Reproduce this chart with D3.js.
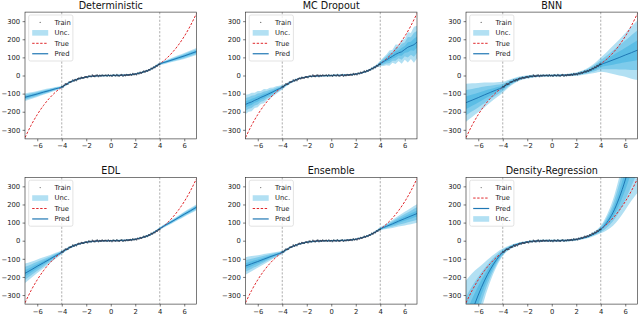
<!DOCTYPE html>
<html>
<head>
<meta charset="utf-8">
<script src="https://cdn.jsdelivr.net/npm/d3@7"></script>
<style>
  body { margin: 0; background: #fff; }
  svg { display: block; font-family: "DejaVu Sans", sans-serif; }
</style>
</head>
<body>
<svg id="canvas" width="640" height="315"></svg>
<script>
// ---------------- data ----------------
let titles = ['Deterministic', 'MC Dropout', 'BNN', 'EDL', 'Ensemble', 'Density-Regression'];
let xTicks = [-6, -4, -2, 0, 2, 4, 6];
let yTicks = [-300, -200, -100, 0, 100, 200, 300];
let trainEdges = [-4, 4];

let grid = [-7,-6.5,-6,-5.5,-5,-4.5,-4,-3.5,-3,-2.5,-2,-1.5,-1,-0.5,0,0.5,1,1.5,2,2.5,3,3.5,4,4.5,5,5.5,6,6.5,7];
let trueY = [-343,-274.6,-216,-166.4,-125,-91.1,-64,-42.9,-27,-15.6,-8,-3.4,-1,-0.1,0,0.1,1,3.4,8,15.6,27,42.9,64,91.1,125,166.4,216,274.6,343];

let trainX = [-4,-3.9,-3.8,-3.7,-3.6,-3.5,-3.4,-3.3,-3.2,-3.1,-3,-2.9,-2.8,-2.7,-2.6,-2.5,-2.4,-2.3,-2.2,-2.1,-2,-1.9,-1.8,-1.7,-1.6,-1.5,-1.4,-1.3,-1.2,-1.1,-1,-0.9,-0.8,-0.7,-0.6,-0.5,-0.4,-0.3,-0.2,-0.1,0,0.1,0.2,0.3,0.4,0.5,0.6,0.7,0.8,0.9,1,1.1,1.2,1.3,1.4,1.5,1.6,1.7,1.8,1.9,2,2.1,2.2,2.3,2.4,2.5,2.6,2.7,2.8,2.9,3,3.1,3.2,3.3,3.4,3.5,3.6,3.7,3.8,3.9,4];
let trainY = [-62,-62.3,-53.9,-46.7,-48.7,-46.9,-36.3,-35.9,-33.8,-24.8,-30,-22.4,-27,-18.7,-14.6,-17.6,-9.8,-13.2,-13.6,-7.3,-8,-10.9,-2.8,-3.9,-6.1,1.6,-3.7,-5.2,0.3,2.7,-5,0.3,-2.5,2.7,-1.2,-0.1,2,-3,4,-2,1,-4,3,1,-2,5.1,-0.8,-2.7,2.5,4.7,-3,2.3,-0.3,5.2,1.7,3.4,6.1,1.9,9.8,4.9,9,5.3,13.6,10.2,17.8,13.6,18.6,23.7,20,27.4,24,31.8,30.8,39.9,37.3,45.9,44.7,54.7,52.9,61.3,62];

let detMean = [-120,-111,-102,-92,-83,-73,-64,-43,-27,-16,-8,-4,-1.5,-0.5,0,0.5,1.5,4,8,16,27,43,64,75,86,97,108,120,132];
let detSd = [7,6.2,5.5,4.8,4,3.2,2.5,2,1.5,1.5,1.5,1.5,1.5,1.5,1.5,1.5,1.5,1.5,1.5,1.5,1.5,2,2.5,3.2,4,4.8,5.5,6,6.5];

let mcX = [-7,-6.75,-6.5,-6.25,-6,-5.75,-5.5,-5.25,-5,-4.75,-4.5,-4.25,-4,-3.75,-3.5,-3.25,-3,-2.75,-2.5,-2.25,-2,-1.75,-1.5,-1.25,-1,-0.75,-0.5,-0.25,0,0.25,0.5,0.75,1,1.25,1.5,1.75,2,2.25,2.5,2.75,3,3.25,3.5,3.75,4,4.25,4.5,4.75,5,5.25,5.5,5.75,6,6.25,6.5,6.75,7];
let mcMean = [-160,-152,-146,-137,-130,-121,-114,-106,-98,-90,-81,-73,-65,-54,-44,-35,-27,-20,-15,-11,-8,-5.5,-4,-3,-2,-1.5,-1,-0.5,0,0.5,1,1.5,2,3,4,5.5,8,11,15,20,27,35,44,54,66,76,86,96,106,117,125,131,144,156,163,170,185];
let mcSd = [18,16,17,14,15,12,13,10,10,8,7,5.5,4,3,2.5,2,2,1.5,1.5,1.5,1.5,1.5,1.5,1.5,1.5,1.5,1.5,1.5,1.5,1.5,1.5,1.5,1.5,1.5,1.5,1.5,1.5,1.5,1.5,1.5,2,2,2.5,3,5,8,10,14,12,18,15,22,19,28,24,33,30];

let bnnMean = [-150,-136,-122,-107,-93,-79,-65,-44,-27,-15,-8,-4,-1.5,-0.5,0,0.5,1.5,4,8,15,26,41,60,73,86,99,113,126,140];
let bnnSd = [35,31,27,23,18,14,10,7,5,3.5,3,2.5,2,2,2,2,2,2.5,3,4,6,9,13,19,26,33,40,48,55];

let edlMean = [-180,-161,-141,-122,-103,-83,-64,-43,-27,-16,-8,-4,-1.5,-0.5,0,0.5,1.5,4,8,16,27,44,67,87,106,126,146,165,185];
let edlSd = [18,15,12.5,10,7.5,5.5,3.5,2.5,2,1.5,1.5,1.5,1.5,1.5,1.5,1.5,1.5,1.5,1.5,1.5,2,2,2.5,3,3.5,4,4.5,5,5.5];

let ensMean = [-140,-127,-115,-102,-89,-77,-64,-43,-27,-16,-8,-4,-1.5,-0.5,0,0.5,1.5,4,8,16,27,44,65,79,93,108,122,136,150];
let ensSd = [16,14,11.5,9.5,7,5,3,2,1.5,1.5,1.5,1.5,1.5,1.5,1.5,1.5,1.5,1.5,1.5,1.5,1.5,2,3,5,7.5,10,12.5,15,17];

let densMean = [-490,-390,-300,-222,-157,-104,-64,-40,-24,-14,-7,-3,-1,0,0,0,1,3,7,14,24,40,62,100,155,235,335,460,610];
let densSd = [90,70,50,34,22,13,7,4,3,2.5,2,2,2,2,2,2,2,2,2,2.5,3,4,7,14,24,38,55,80,115];

let legendA = ['Train', 'Unc.', 'True', 'Pred'];
let legendB = ['Train', 'True', 'Pred', 'Unc.'];

// ---------------- layout ----------------
let canvas = d3.select('#canvas');
let panelW = 171.5;
let panelH = 126.8;
let lefts = [25, 245.5, 466];
let tops = [12.1, 177.3];

let bandColor = '#14a0dc';
let predColor = '#1f77b4';
let trueColor = '#e0282c';
let fontSize = 6.8;

let panels = [
  { xs: grid, mean: detMean, sd: detSd, curve: d3.curveMonotoneX, legend: legendA },
  { xs: mcX, mean: mcMean, sd: mcSd, curve: d3.curveLinear, legend: legendA },
  { xs: grid, mean: bnnMean, sd: bnnSd, curve: d3.curveMonotoneX, legend: legendA },
  { xs: grid, mean: edlMean, sd: edlSd, curve: d3.curveMonotoneX, legend: legendA },
  { xs: grid, mean: ensMean, sd: ensSd, curve: d3.curveMonotoneX, legend: legendA },
  { xs: grid, mean: densMean, sd: densSd, curve: d3.curveMonotoneX, legend: legendB }
];

let drawPanel = (p, i) => {
  let left = lefts[i % 3];
  let top = tops[Math.floor(i / 3)];
  let x = d3.scaleLinear().domain([-7, 7]).range([0, panelW]);
  let y = d3.scaleLinear().domain([-350, 350]).range([panelH, 0]);

  let g = canvas.append('g').attr('transform', `translate(${left},${top})`);
  g.append('clipPath').attr('id', 'clip' + i)
    .append('rect').attr('width', panelW).attr('height', panelH);
  let plot = g.append('g').attr('clip-path', `url(#clip${i})`);

  // limits of the training range
  plot.selectAll('.edge')
    .data(trainEdges)
    .enter()
    .append('line')
    .attr('x1', d => x(d)).attr('x2', d => x(d))
    .attr('y1', 0).attr('y2', panelH)
    .attr('stroke', '#9a9a9a')
    .attr('stroke-width', 0.8)
    .attr('stroke-dasharray', '2.2,1.6');

  // uncertainty bands, 3, 2, 1 sd
  let pts = p.xs.map((xv, j) => ({ x: xv, m: p.mean[j], s: p.sd[j] }));
  [3, 2, 1].forEach(k => {
    let area = d3.area()
      .x(d => x(d.x))
      .y0(d => y(d.m - k * d.s))
      .y1(d => y(d.m + k * d.s))
      .curve(p.curve);
    plot.append('path')
      .datum(pts)
      .attr('d', area)
      .attr('fill', bandColor)
      .attr('fill-opacity', 0.33);
  });

  // true function
  let trueLine = d3.line().x((d, j) => x(grid[j])).y(d => y(d)).curve(d3.curveMonotoneX);
  plot.append('path')
    .datum(trueY)
    .attr('d', trueLine)
    .attr('fill', 'none')
    .attr('stroke', trueColor)
    .attr('stroke-width', 1)
    .attr('stroke-dasharray', '2.4,1.6');

  // prediction
  let predLine = d3.line().x(d => x(d.x)).y(d => y(d.m)).curve(p.curve);
  plot.append('path')
    .datum(pts)
    .attr('d', predLine)
    .attr('fill', 'none')
    .attr('stroke', predColor)
    .attr('stroke-width', 1);

  // training points
  plot.selectAll('.train')
    .data(trainX)
    .enter()
    .append('circle')
    .attr('cx', d => x(d))
    .attr('cy', (d, j) => y(trainY[j]))
    .attr('r', 0.85)
    .attr('fill', '#26384a')
    .attr('fill-opacity', 0.75);

  // axes
  let xAxis = g.append('g')
    .attr('transform', `translate(0,${panelH})`)
    .call(d3.axisBottom(x).tickValues(xTicks).tickSize(2.4).tickSizeOuter(0).tickPadding(2.2));
  let yAxis = g.append('g')
    .call(d3.axisLeft(y).tickValues(yTicks).tickSize(2.4).tickSizeOuter(0).tickPadding(2.4));
  [xAxis, yAxis].forEach(a => {
    a.attr('font-size', fontSize).attr('font-family', '"DejaVu Sans", sans-serif');
    a.select('.domain').remove();
    a.selectAll('line').attr('stroke', '#222').attr('stroke-width', 0.6);
    a.selectAll('text').attr('fill', '#222');
  });

  g.append('rect')
    .attr('width', panelW).attr('height', panelH)
    .attr('fill', 'none')
    .attr('stroke', '#222')
    .attr('stroke-width', 0.6);

  // title
  g.append('text')
    .attr('x', panelW / 2)
    .attr('y', -3)
    .attr('text-anchor', 'middle')
    .attr('font-size', 9.6)
    .attr('fill', '#111')
    .text(titles[i]);

  // legend
  let lg = g.append('g').attr('transform', 'translate(3.7,2.9)');
  lg.append('rect')
    .attr('width', 44.2).attr('height', 46)
    .attr('rx', 1.8)
    .attr('fill', '#fff').attr('fill-opacity', 0.8)
    .attr('stroke', '#d0d0d0').attr('stroke-width', 0.6);
  p.legend.forEach((name, j) => {
    let cy = 7.4 + j * 10.45;
    let item = lg.append('g');
    if (name === 'Train') {
      item.append('circle').attr('cx', 11.5).attr('cy', cy).attr('r', 0.7).attr('fill', '#777');
    } else if (name === 'Unc.') {
      item.append('rect').attr('x', 3.5).attr('y', cy - 2.8).attr('width', 16).attr('height', 5.6)
        .attr('fill', bandColor).attr('fill-opacity', 0.33);
    } else if (name === 'True') {
      item.append('line').attr('x1', 3.5).attr('x2', 19.5).attr('y1', cy).attr('y2', cy)
        .attr('stroke', trueColor).attr('stroke-width', 1).attr('stroke-dasharray', '2.4,1.6');
    } else {
      item.append('line').attr('x1', 3.5).attr('x2', 19.5).attr('y1', cy).attr('y2', cy)
        .attr('stroke', predColor).attr('stroke-width', 1.2);
    }
    item.append('text')
      .attr('x', 25.8)
      .attr('y', cy)
      .attr('dy', '0.36em')
      .attr('font-size', fontSize)
      .attr('fill', '#222')
      .text(name);
  });
};

panels.forEach(drawPanel);
</script>
</body>
</html>
